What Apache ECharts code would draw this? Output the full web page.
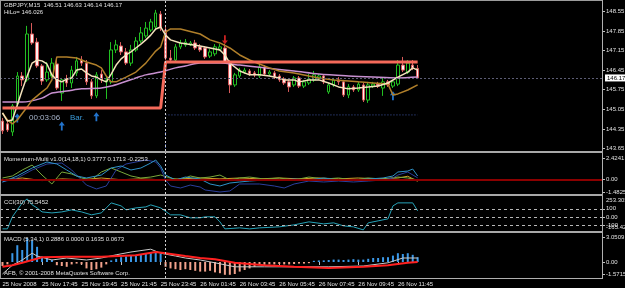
<!DOCTYPE html>
<html>
<head>
<meta charset="utf-8">
<script src="https://cdn.jsdelivr.net/npm/echarts@6/dist/echarts.min.js"></script>
<style>html,body{margin:0;padding:0;background:#000}#chart{width:625px;height:288px}</style>
</head>
<body>
<div id="chart"></div>
<script>
// GBPJPY M15, 25-26 Nov 2008
var tickLabels = ['25 Nov 2008','25 Nov 17:45','25 Nov 19:45','25 Nov 21:45','25 Nov 23:45','26 Nov 01:45','26 Nov 03:45','26 Nov 05:45','26 Nov 07:45','26 Nov 09:45','26 Nov 11:45'];

var opens  = [144.63,144.53,144.24,145.24,146.24,146.10,147.74,147.45,146.60,146.10,146.24,146.67,145.63,146.13,145.99,146.35,146.81,146.70,146.03,145.53,146.31,146.03,146.03,147.17,147.31,147.10,146.70,147.17,147.49,147.67,147.88,147.99,148.45,147.88,146.88,146.81,147.28,147.35,147.35,147.42,147.28,147.24,146.95,147.03,147.20,147.24,146.70,145.92,146.24,146.38,146.42,146.35,146.24,146.56,146.31,146.35,146.24,146.13,146.03,145.92,146.17,145.88,145.99,146.10,146.17,146.24,145.67,145.92,146.10,146.03,145.56,145.85,145.74,145.92,145.38,145.88,145.95,145.81,146.03,145.88,145.95,146.63,146.38,146.63,146.51];
var closes = [144.28,144.31,145.17,146.24,146.10,147.74,147.42,146.60,146.06,146.38,146.70,145.81,146.10,145.99,146.45,146.78,146.70,146.03,145.53,146.28,146.10,146.10,147.17,147.35,147.10,146.70,147.17,147.49,147.78,147.95,148.17,148.49,147.95,146.88,146.81,147.28,147.42,147.45,147.42,147.24,147.17,146.92,147.10,147.28,147.28,146.74,145.92,146.28,146.45,146.45,146.31,146.28,146.56,146.31,146.38,146.20,146.10,145.99,145.85,146.17,145.88,146.03,146.13,146.28,146.24,146.03,145.92,146.10,146.03,145.56,145.85,145.74,145.95,145.38,145.92,145.95,145.88,146.03,145.92,146.03,146.63,146.45,146.70,146.53,146.17];
var highs  = [144.74,144.63,145.24,146.38,146.38,148.03,148.13,147.60,146.67,146.74,146.88,146.92,146.17,146.28,146.60,146.92,146.95,146.81,146.13,146.38,146.45,146.24,147.45,147.53,147.45,147.24,147.35,147.63,147.99,148.17,148.28,148.60,148.56,147.99,147.17,147.38,147.53,147.56,147.49,147.53,147.38,147.31,147.20,147.38,147.38,147.38,146.81,146.35,146.53,146.53,146.49,146.42,146.67,146.63,146.45,146.42,146.31,146.20,146.10,146.24,146.24,146.10,146.31,146.42,146.31,146.31,145.99,146.17,146.20,146.10,145.95,145.92,146.03,145.99,146.03,146.03,146.03,146.17,146.10,146.10,146.81,146.92,146.81,146.81,146.63];
var lows   = [144.17,144.24,144.10,145.13,145.88,146.03,147.35,146.53,145.92,146.03,146.17,145.74,145.35,145.85,145.81,146.24,146.60,145.92,145.42,145.45,145.99,145.42,145.95,147.06,146.99,146.63,146.60,147.10,147.42,147.60,147.81,147.92,147.85,146.81,146.70,146.74,147.20,147.28,147.31,147.17,147.10,146.85,146.88,146.95,147.13,146.67,145.63,145.85,146.17,146.31,146.24,146.20,146.17,146.24,146.24,146.13,146.03,145.92,145.67,145.85,145.81,145.81,145.92,146.03,146.10,145.95,145.60,145.85,145.92,145.49,145.45,145.67,145.67,145.31,145.28,145.81,145.81,145.53,145.85,145.81,145.88,146.38,146.31,146.45,146.14];

// moving averages: [bar, price]
var fastMa = [[0,144.92],[1,144.63],[2,144.67],[3,145.20],[4,145.74],[5,146.24],[6,146.70],[7,146.81],[8,146.78],[9,146.67],[10,146.28],[11,146.10],[12,146.03],[13,146.13],[14,146.17],[15,146.45],[16,146.49],[17,146.35],[18,146.24],[19,146.20],[20,146.10],[21,146.03],[22,146.31],[23,146.63],[24,146.85],[25,146.99],[26,147.10],[27,147.24],[28,147.38],[29,147.53],[30,147.70],[31,147.92],[32,147.99],[33,147.70],[34,147.53],[36,147.42],[40,147.31],[42,147.24],[44,147.17],[45,146.99],[46,146.70],[47,146.56],[48,146.42],[50,146.28],[52,146.28],[54,146.24],[56,146.17],[57,146.10],[59,146.10],[60,146.03],[62,146.10],[64,146.10],[66,145.99],[68,145.85],[70,145.78],[72,145.81],[74,145.85],[76,145.88],[78,145.99],[80,146.20],[82,146.38],[83,146.53],[84,146.45]];
var midMa = [[0,144.92],[1,144.67],[2,144.53],[3,144.67],[5,145.13],[6,145.38],[8,145.67],[9,145.81],[10,146.10],[11,146.92],[13,146.92],[15,146.88],[17,146.74],[19,146.63],[20,146.53],[21,146.24],[22,146.03],[23,146.03],[25,146.20],[27,146.38],[29,146.70],[31,147.13],[32,147.28],[33,147.81],[34,147.92],[36,147.92],[40,147.74],[42,147.53],[44,147.42],[46,147.24],[48,146.99],[50,146.81],[52,146.67],[54,146.53],[56,146.42],[59,146.35],[62,146.24],[64,146.17],[67,146.10],[70,146.06],[72,146.03],[75,145.99],[78,145.95],[79,145.56],[80,145.60],[82,145.74],[84,145.92]];
var slowMa = [[0,145.31],[4,145.31],[8,145.45],[10,145.63],[13,145.70],[16,145.78],[20,145.81],[22,145.88],[24,145.99],[27,146.17],[29,146.28],[32,146.38],[35,146.53],[37,146.60],[40,146.70],[44,146.70],[48,146.63],[53,146.53],[59,146.42],[64,146.31],[70,146.24],[75,146.20],[80,146.17],[84,146.20]];
var hiLo = [[0,145.10],[32,145.10],[33,146.74],[84,146.74]];
var level = [[33,143.56],[33,144.85],[84,144.85]];
var lastPrice = 146.17;
var arrowsUp = [[3,144.74],[12,144.45],[19,144.78],[79,145.53]];
var arrowsDown = [[45,147.53]];

// Momentum-Multi lines
var momNavy = [[0,-0.31],[3,0.15],[6,1.07],[9,1.76],[12,1.87],[14,1.07],[17,-0.66],[19,-1.11],[21,-0.77],[23,1.07],[25,1.76],[27,1.99],[29,2.22],[31,1.99],[32,1.30],[33,-0.08],[34,-0.77],[36,-1.00],[38,-0.66],[40,-0.89],[41,-1.23],[44,-1.46],[46,-1.34],[48,-0.54],[52,-0.54],[55,-0.77],[57,-1.00],[59,-0.54],[62,-0.20],[65,-0.31],[68,-0.20],[71,-0.31],[74,-0.20],[77,-0.08],[79,0.15],[80,0.49],[82,0.84],[84,0.17]];
var momCyan = [[0,-0.31],[3,0.38],[6,1.30],[9,1.99],[11,1.76],[13,1.07],[15,0.38],[17,0.15],[20,0.49],[22,1.30],[24,1.53],[26,1.07],[28,1.30],[30,1.87],[31,2.22],[32,1.53],[33,0.49],[35,-0.08],[37,0.26],[40,0.03],[42,-0.54],[44,-0.77],[46,-0.43],[48,-0.31],[50,-0.20],[53,-0.08],[56,-0.08],[59,0.03],[62,-0.08],[65,0.15],[68,-0.08],[71,-0.08],[74,0.03],[77,0.15],[79,0.38],[80,0.84],[82,0.95],[83,1.18],[84,0.38]];
var momGreen = [[0,0.15],[2,0.38],[4,1.07],[6,1.64],[8,0.49],[10,-0.54],[12,0.84],[14,0.61],[16,0.15],[18,-0.08],[20,0.84],[22,1.30],[24,0.84],[26,0.38],[28,0.15],[30,0.26],[32,0.49],[34,0.15],[36,-0.08],[38,0.38],[40,0.15],[42,0.26],[44,0.49],[46,-0.08],[48,0.15],[50,0.26],[53,0.03],[56,0.15],[59,-0.08],[62,0.26],[65,0.03],[68,0.15],[71,-0.08],[74,0.15],[77,0.03],[80,0.26],[82,0.15],[84,-0.08]];
var momGold = [[0,-0.05],[4,0.15],[8,-0.15],[12,0.05],[16,-0.05],[20,0.15],[24,-0.05],[28,0.05],[32,-0.05],[36,0.05],[40,0.15],[44,0.05],[48,0.15],[52,0.05],[56,0.15],[60,0.05],[64,0.15],[68,0.05],[72,0.15],[76,0.05],[80,0.15],[82,0.35],[84,-0.23]];

// CCI(30)
var cci = [[0,-140],[1,-140],[2,4],[4,171],[5,219],[6,147],[7,111],[8,63],[10,51],[12,63],[14,87],[16,63],[18,28],[20,51],[21,111],[22,171],[24,135],[25,87],[27,111],[29,123],[30,147],[32,111],[34,28],[36,28],[38,-8],[40,-8],[41,4],[43,4],[44,-56],[45,-140],[48,-128],[50,-140],[52,-128],[56,-116],[59,-92],[62,-56],[65,-80],[67,-68],[69,-104],[71,-116],[73,-152],[74,-68],[76,-44],[78,-20],[79,135],[80,171],[83,171],[84,75.5]];

// MACD (5,34,1)
var macdHist = [-0.5,-0.3,1.1,2.1,1.5,3.0,2.7,1.9,0.7,0.5,0.3,-0.4,-0.5,-0.6,-0.3,-0.2,-0.3,-0.8,-1.0,-0.9,-0.7,-0.3,0.2,0.4,0.6,0.7,0.8,0.9,1.0,1.1,1.1,1.2,1.0,-0.6,-0.8,-0.9,-1.0,-0.9,-1.0,-1.1,-1.2,-1.2,-1.1,-1.3,-1.4,-1.6,-1.6,-1.5,-1.2,-1.0,-0.8,-0.6,-0.4,-0.35,-0.3,-0.3,-0.25,-0.3,-0.3,-0.25,-0.2,-0.2,-0.15,0.15,0.2,0.2,0.25,0.3,0.3,0.25,0.3,0.35,0.3,0.3,0.4,0.5,0.5,0.6,0.6,0.8,1.1,1.0,1.1,0.9,0.6];
var macdSignal = [[0,-0.6],[2,-0.4],[4,-0.1],[6,0.25],[8,0.6],[13,0.65],[20,0.65],[27,0.85],[31,1.25],[33,1.1],[37,0.75],[40,0.5],[43,0.35],[47,-0.1],[53,-0.4],[59,-0.6],[66,-0.75],[73,-0.6],[78,-0.4],[82,-0.1],[84,0.0]];
var macdLine = [[0,-1.5],[2,-0.4],[4,0.25],[6,1.1],[7,0.75],[10,0.25],[13,0.5],[17,0.25],[20,0.5],[23,0.9],[26,1.25],[30,1.6],[32,1.1],[35,0.75],[37,0.5],[40,0.25],[43,-0.1],[47,-0.6],[53,-0.6],[59,-0.6],[66,-0.6],[73,-0.5],[78,-0.1],[81,0.5],[84,0.5]];

var dayBreak = 33;
var slots = 122;

var cats = [];
for (var i = 0; i < slots; i++) cats.push(String(i));
var candles = [];
for (var j = 0; j < opens.length; j++) candles.push([opens[j], closes[j], lows[j], highs[j]]);

var FONT = 'Liberation Sans';
var txt = '#e0e0e0';
var sepLine = {silent: true, symbol: ['none','none'], label: {show: false},
  lineStyle: {color: '#cfcfcf', type: [2,2], width: 1}, data: [{xAxis: dayBreak}]};

function xAx(g, show) {
  return {
    type: 'category', gridIndex: g, data: cats, boundaryGap: true,
    axisLine: {show: false}, splitLine: {show: false},
    axisTick: {show: show, length: 3, alignWithLabel: true, lineStyle: {color: '#c0c0c0'},
      interval: function (idx) { return idx % 8 === 0 && idx / 8 < tickLabels.length; }},
    axisLabel: {show: show, color: txt, fontSize: 6, fontFamily: FONT, align: 'left', margin: 3,
      interval: function (idx) { return idx % 8 === 0 && idx / 8 < tickLabels.length; },
      formatter: function (v, idx) { return idx % 8 === 0 ? (tickLabels[idx / 8] || '') : ''; }}
  };
}
function yAx(g, min, max, vals, fmt) {
  return {
    type: 'value', gridIndex: g, position: 'right', min: min, max: max, scale: true,
    axisLine: {show: false}, splitLine: {show: false},
    axisTick: {show: true, length: 2, customValues: vals, lineStyle: {color: '#c0c0c0'}},
    axisLabel: {color: txt, fontSize: 6, fontFamily: FONT, margin: 3, customValues: vals, formatter: fmt}
  };
}

var chart = echarts.init(document.getElementById('chart'), null, {renderer: 'canvas'});
chart.setOption({
  backgroundColor: '#000',
  animation: false,
  textStyle: {fontFamily: FONT},
  grid: [
    {left: 0, top: 1, width: 603, height: 150, outerBoundsMode: 'none'},
    {left: 0, top: 153, width: 603, height: 41, outerBoundsMode: 'none'},
    {left: 0, top: 196, width: 603, height: 35, outerBoundsMode: 'none'},
    {left: 0, top: 233, width: 603, height: 45, outerBoundsMode: 'none'}
  ],
  xAxis: [xAx(0, false), xAx(1, false), xAx(2, false), xAx(3, true)],
  yAxis: [
    yAx(0, 143.561, 148.918, [143.65,144.35,145.05,145.75,146.45,147.15,147.85,148.55], function (v) { return v.toFixed(2); }),
    yAx(1, -1.690, 3.023, [2.4241, 0, -1.4825], function (v) { return v === 0 ? '0.00' : String(v); }),
    yAx(2, -165.423, 253.303, [100, 0, -100], function (v) { return v === 0 ? '0.00' : String(v); }),
    yAx(3, -2.0, 3.625, [3.0509, 0, -1.5715], function (v) { return v === 0 ? '0.00' : String(v); })
  ],
  series: [
    {type: 'candlestick', xAxisIndex: 0, yAxisIndex: 0, data: candles, barWidth: 3,
      itemStyle: {color: '#000000', color0: '#fff0f0', borderColor: '#22c022', borderColor0: '#d85a5a', borderWidth: 1},
      markLine: {silent: true, symbol: ['none','none'],
        data: [
          {xAxis: dayBreak, lineStyle: {color: '#cfcfcf', type: [2,2], width: 1}, label: {show: false}},
          {yAxis: lastPrice, lineStyle: {color: '#5c5c74', type: [2,2], width: 1},
            label: {show: true, position: 'end', distance: 2, formatter: '146.17', color: '#000',
              backgroundColor: '#fff', padding: [1,2,0,2], fontSize: 6, fontFamily: FONT}}
        ]}},
    {type: 'line', xAxisIndex: 0, yAxisIndex: 0, data: slowMa, symbol: 'none', smooth: 0.3,
      lineStyle: {color: '#c890d0', width: 1.5}},
    {type: 'line', xAxisIndex: 0, yAxisIndex: 0, data: midMa, symbol: 'none',
      lineStyle: {color: '#b07f2a', width: 1.5}},
    {type: 'line', xAxisIndex: 0, yAxisIndex: 0, data: fastMa, symbol: 'none',
      lineStyle: {color: '#f3e2bb', width: 1.5}},
    {type: 'line', xAxisIndex: 0, yAxisIndex: 0, data: hiLo, symbol: 'none',
      lineStyle: {color: '#f56a5a', width: 3}},
    {type: 'line', xAxisIndex: 0, yAxisIndex: 0, data: level, symbol: 'none',
      lineStyle: {color: '#3f56a8', width: 1, type: [1,2]}},
    {type: 'scatter', xAxisIndex: 0, yAxisIndex: 0, data: arrowsUp,
      symbol: 'path://M5,0L10,6H6.5V14H3.5V6H0Z', symbolSize: [6,9], itemStyle: {color: '#2a90ff'}},
    {type: 'scatter', xAxisIndex: 0, yAxisIndex: 0, data: arrowsDown,
      symbol: 'path://M3.5,0H6.5V8H10L5,14L0,8H3.5Z', symbolSize: [6,9], itemStyle: {color: '#ff2a2a'}},

    {type: 'line', xAxisIndex: 1, yAxisIndex: 1, data: momGold, symbol: 'none',
      lineStyle: {color: '#d0a028', width: 1},
      markLine: {silent: true, symbol: ['none','none'], label: {show: false},
        data: [
          {yAxis: 0, lineStyle: {color: '#8b0000', type: 'solid', width: 2}},
          {xAxis: dayBreak, lineStyle: {color: '#cfcfcf', type: [2,2], width: 1}}
        ]}},
    {type: 'line', xAxisIndex: 1, yAxisIndex: 1, data: momGreen, symbol: 'none',
      lineStyle: {color: '#7aa83a', width: 1}},
    {type: 'line', xAxisIndex: 1, yAxisIndex: 1, data: momNavy, symbol: 'none',
      lineStyle: {color: '#2b3f9c', width: 1}},
    {type: 'line', xAxisIndex: 1, yAxisIndex: 1, data: momCyan, symbol: 'none',
      lineStyle: {color: '#2f93c8', width: 1}},

    {type: 'line', xAxisIndex: 2, yAxisIndex: 2, data: cci, symbol: 'none',
      lineStyle: {color: '#26a3b8', width: 1},
      markLine: {silent: true, symbol: ['none','none'], label: {show: false},
        lineStyle: {color: '#b8b8b8', type: [3,3], width: 1},
        data: [{yAxis: 100}, {yAxis: 0}, {yAxis: -100},
          {xAxis: dayBreak, lineStyle: {color: '#cfcfcf', type: [2,2], width: 1}}]}},

    {type: 'bar', xAxisIndex: 3, yAxisIndex: 3, data: macdHist, barWidth: 2,
      itemStyle: {color: function (p) { return p.value >= 0 ? '#3a98e8' : '#f2a28c'; }},
      markLine: sepLine},
    {type: 'line', xAxisIndex: 3, yAxisIndex: 3, data: macdLine, symbol: 'none',
      lineStyle: {color: '#c8c8c8', width: 1}},
    {type: 'line', xAxisIndex: 3, yAxisIndex: 3, data: macdSignal, symbol: 'none',
      lineStyle: {color: '#ff2020', width: 2}}
  ],
  graphic: [
    {type: 'rect', z: 100, shape: {x: 0, y: 0, width: 603, height: 1}, style: {fill: '#9c9c9c'}},
    {type: 'rect', z: 100, shape: {x: 0, y: 0, width: 1, height: 279}, style: {fill: '#9c9c9c'}},
    {type: 'rect', z: 100, shape: {x: 602, y: 0, width: 1, height: 279}, style: {fill: '#b0b0b0'}},
    {type: 'rect', z: 100, shape: {x: 0, y: 151, width: 603, height: 2}, style: {fill: '#a8a8a8'}},
    {type: 'rect', z: 100, shape: {x: 0, y: 194, width: 603, height: 2}, style: {fill: '#a8a8a8'}},
    {type: 'rect', z: 100, shape: {x: 0, y: 231, width: 603, height: 2}, style: {fill: '#a8a8a8'}},
    {type: 'rect', z: 100, shape: {x: 0, y: 278, width: 603, height: 1}, style: {fill: '#b0b0b0'}},
    {type: 'text', z: 100, x: 4, y: 5.5, style: {text: 'GBPJPY,M15  146.51 146.63 146.14 146.17', fill: txt, fontSize: 6, fontFamily: FONT, verticalAlign: 'middle'}},
    {type: 'text', z: 100, x: 4, y: 12.5, style: {text: 'HiLo= 146.026', fill: txt, fontSize: 6, fontFamily: FONT, verticalAlign: 'middle'}},
    {type: 'text', z: 100, x: 29, y: 118, style: {text: '00:03:06', fill: '#a9b6cc', fontSize: 8, fontFamily: FONT, verticalAlign: 'middle'}},
    {type: 'text', z: 100, x: 70, y: 118, style: {text: 'Bar.', fill: '#3a9ad8', fontSize: 8, fontFamily: FONT, verticalAlign: 'middle'}},
    {type: 'text', z: 100, x: 4, y: 159, style: {text: 'Momentum-Multi v1.0(14,18,1) 0.3777 0.1713 -0.2253', fill: txt, fontSize: 6, fontFamily: FONT, verticalAlign: 'middle'}},
    {type: 'text', z: 100, x: 4, y: 202.5, style: {text: 'CCI(30) 75.5452', fill: txt, fontSize: 6, fontFamily: FONT, verticalAlign: 'middle'}},
    {type: 'text', z: 100, x: 4, y: 239.5, style: {text: 'MACD (5,34,1) 0.2886 0.0000 0.1635 0.0673', fill: txt, fontSize: 6, fontFamily: FONT, verticalAlign: 'middle'}},
    {type: 'text', z: 100, x: 4, y: 273.5, style: {text: 'AFB, \u00a9 2001-2008 MetaQuotes Software Corp.', fill: txt, fontSize: 6, fontFamily: FONT, verticalAlign: 'middle'}},
    {type: 'text', z: 100, x: 606, y: 200, style: {text: '253.303', fill: txt, fontSize: 6, fontFamily: FONT, verticalAlign: 'middle'}},
    {type: 'text', z: 100, x: 606, y: 227.5, style: {text: '-165.423', fill: txt, fontSize: 6, fontFamily: FONT, verticalAlign: 'middle'}}
  ]
});
</script>
</body>
</html>
